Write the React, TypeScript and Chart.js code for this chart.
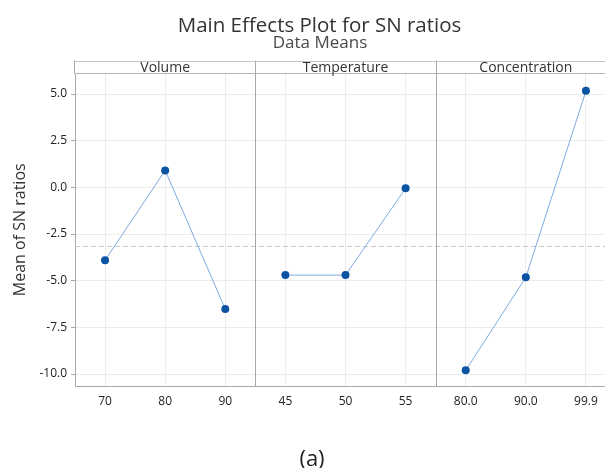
import React, { useEffect, useRef } from "react";
import { Chart, registerables } from "chart.js";

Chart.register(...registerables);

// ---- data ----
const chartTitle = "Main Effects Plot for SN ratios";
const chartSubtitle = "Data Means";
const yAxisTitle = "Mean of SN ratios";
const caption = "(a)";

const factors = ["Volume", "Temperature", "Concentration"];
const volumeLevels = ["70", "80", "90"];
const volumeMeans = [-3.91, 0.91, -6.52];
const temperatureLevels = ["45", "50", "55"];
const temperatureMeans = [-4.7, -4.7, -0.05];
const concentrationLevels = ["80.0", "90.0", "99.9"];
const concentrationMeans = [-9.8, -4.82, 5.17];
const yTicks = [-10, -7.5, -5, -2.5, 0, 2.5, 5];
const yMin = -10.64;
const yMax = 6.1;

const levelSets = [volumeLevels, temperatureLevels, concentrationLevels];
const meanSets = [volumeMeans, temperatureMeans, concentrationMeans];
const allMeans = meanSets.flat();
const grandMean = allMeans.reduce((s, v) => s + v, 0) / allMeans.length;

const xPositions: number[] = [];
const xLabels: string[] = [];
levelSets.forEach((levels, i) =>
  levels.forEach((lab, j) => {
    xPositions.push(i * levels.length + j + 0.5);
    xLabels.push(lab);
  })
);
const slotsPerPanel = volumeLevels.length;
const xMax = slotsPerPanel * factors.length;

const FONT = "'Open Sans', 'Noto Sans', sans-serif";
const POINT = "#0b54a4";
const LINE = "#7eaadd";
const GRID = "#ececec";
const AXIS = "#a8a8a8";

const panelPlugin = {
  id: "panels",
  beforeDatasetsDraw(chart: any) {
    const { ctx, chartArea: a, scales } = chart;
    const x = scales.x;
    const y = scales.y;
    ctx.save();
    const my = Math.round(y.getPixelForValue(grandMean)) + 0.5;
    ctx.strokeStyle = "#c8c8c8";
    ctx.lineWidth = 1;
    ctx.setLineDash([5, 3]);
    ctx.beginPath();
    ctx.moveTo(a.left, my);
    ctx.lineTo(a.right, my);
    ctx.stroke();
    ctx.setLineDash([]);
    const headerTop = a.top - 13;
    ctx.strokeStyle = AXIS;
    for (let i = 1; i < factors.length; i++) {
      const px = Math.round(x.getPixelForValue(i * slotsPerPanel)) + 0.5;
      ctx.beginPath();
      ctx.moveTo(px, headerTop);
      ctx.lineTo(px, a.bottom);
      ctx.stroke();
    }
    ctx.restore();
  },
  afterDraw(chart: any) {
    const { ctx, chartArea: a, scales } = chart;
    const x = scales.x;
    const headerTop = a.top - 13;
    ctx.save();
    ctx.strokeStyle = "#c4c4c4";
    ctx.lineWidth = 1;
    ctx.beginPath();
    ctx.moveTo(a.left, Math.round(headerTop) + 0.5);
    ctx.lineTo(a.right, Math.round(headerTop) + 0.5);
    ctx.stroke();
    ctx.strokeStyle = "#b4b4b4";
    ctx.beginPath();
    ctx.moveTo(a.left, Math.round(a.top) - 0.5);
    ctx.lineTo(a.right, Math.round(a.top) - 0.5);
    ctx.stroke();
    ctx.strokeStyle = AXIS;
    ctx.beginPath();
    ctx.moveTo(Math.round(a.left) - 0.5, headerTop);
    ctx.lineTo(Math.round(a.left) - 0.5, a.top);
    ctx.stroke();
    ctx.fillStyle = "#333333";
    ctx.font = `14px ${FONT}`;
    ctx.textAlign = "center";
    ctx.textBaseline = "alphabetic";
    factors.forEach((f, i) => {
      const cx = x.getPixelForValue(i * slotsPerPanel + slotsPerPanel / 2);
      ctx.fillText(f, cx, a.top - 1.5);
    });
    ctx.fillStyle = "#333333";
    ctx.font = `20.5px ${FONT}`;
    ctx.fillText(chartTitle, 319.5, 31.5);
    ctx.fillStyle = "#4a4a4a";
    ctx.font = `17px ${FONT}`;
    ctx.fillText(chartSubtitle, 320, 47.5);
    ctx.fillStyle = "#222222";
    ctx.font = `22px ${FONT}`;
    ctx.fillText(caption, 312, 466);
    ctx.restore();
  },
};

export default function App() {
  const canvasRef = useRef<HTMLCanvasElement | null>(null);

  useEffect(() => {
    const canvas = canvasRef.current;
    if (!canvas) return;
    const datasets = factors.map((f, i) => ({
      label: f,
      data: levelSets[i].map((_, j) => ({
        x: i * slotsPerPanel + j + 0.5,
        y: meanSets[i][j],
      })),
      showLine: true,
      borderColor: LINE,
      borderWidth: 1,
      pointRadius: 4,
      pointBackgroundColor: POINT,
      pointBorderColor: POINT,
      pointBorderWidth: 0,
    }));

    const chart = new Chart(canvas, {
      type: "scatter",
      data: { datasets },
      plugins: [panelPlugin],
      options: {
        animation: false,
        responsive: false,
        devicePixelRatio: 1,
        layout: { padding: { top: 73.5, right: 4, bottom: 0, left: 0 } },
        plugins: {
          legend: { display: false },
          tooltip: { enabled: false },
          title: { display: false },
        },
        scales: {
          x: {
            type: "linear",
            min: 0,
            max: xMax,
            afterBuildTicks: (s: any) => {
              s.ticks = xPositions.map((v) => ({ value: v }));
            },
            afterFit: (s: any) => {
              s.height = 82;
            },
            ticks: {
              autoSkip: false,
              maxRotation: 0,
              padding: 8,
              color: "#222222",
              font: { family: FONT, size: 12 },
              callback: (_v: any, i: number) => xLabels[i],
            },
            grid: { color: GRID, drawTicks: false },
            border: { color: AXIS },
          },
          y: {
            type: "linear",
            min: yMin,
            max: yMax,
            afterBuildTicks: (s: any) => {
              s.ticks = yTicks.map((v) => ({ value: v }));
            },
            afterFit: (s: any) => {
              s.width = 75;
            },
            ticks: {
              padding: 4,
              color: "#222222",
              font: { family: FONT, size: 12 },
              callback: (v: any) => Number(v).toFixed(1),
            },
            grid: { color: GRID, tickColor: AXIS, tickLength: 4 },
            border: { color: AXIS },
            title: {
              display: true,
              text: yAxisTitle,
              color: "#333333",
              font: { family: FONT, size: 16 },
              padding: { top: 11, bottom: 0 },
            },
          },
        },
      },
    } as any);
    return () => chart.destroy();
  }, []);

  return (
    <div
      style={{
        position: "absolute",
        left: 0,
        top: 0,
        width: 605,
        height: 468,
        overflow: "hidden",
        background: "#ffffff",
      }}
    >
      <canvas ref={canvasRef} width={620} height={468} style={{ display: "block" }} />
    </div>
  );
}
